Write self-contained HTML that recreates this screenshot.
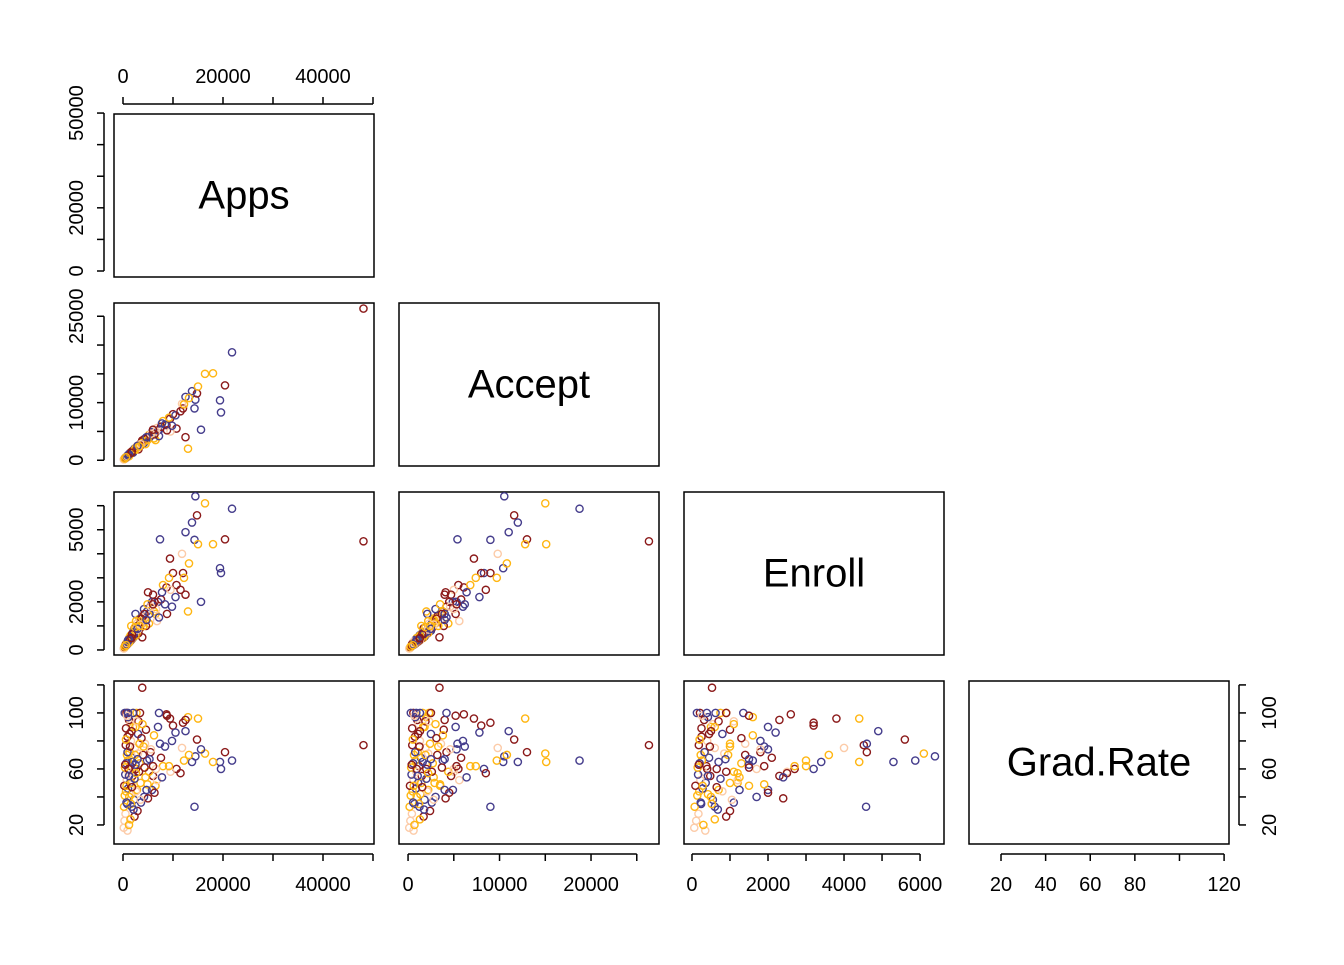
<!DOCTYPE html>
<html><head><meta charset="utf-8"><style>
html,body{margin:0;padding:0;background:#fff;}
svg text{font-family:"Liberation Sans",Arial,sans-serif;}
</style></head><body>
<svg id="chart" width="1344" height="960" viewBox="0 0 1344 960" xmlns="http://www.w3.org/2000/svg"></svg>
<script>
const varNames = ["Apps","Accept","Enroll","Grad.Rate"];
const apps   = [48094,21804,14474,16400,14800,19400,19600,18000,20400,13800,12500,14300,7400,9400,12000,15000,13200,11800,10000,15600,13000,12500,10700,8700,9500,8000,6000,7000,5500,6500,4800,4000,3500,3847,3000,2800,2600,2400,2200,2000,1900,1800,1700,1600,1500,1400,1300,1200,1100,1000,950,900,850,800,750,700,650,600,550,500,450,400,350,300,250,200,150,5200,4600,4200,3300,2900,2700,6800,7600,8400,9200,10500,11500,12200,5800,4400,3600,2300,2100,1750,1450,1250,1050,6200,7200,8800,9800,3100,4500,5000,6600,2500,1650,900,1200,600,3400,2000,
  2500,1900,3200,2600,4100,1300,1600,900,700,1100,2300,2800,3700,5300,4900,6300,800,1500,2100,3000,1000,1400,2600,4300,5600,7800,3900,450,350,700,1800,2400,3500,1200,1700,600,2900,3300,4700,6000];
const accept = [26330,18744,10519,15000,11600,10400,8300,15100,13000,12000,11000,9000,5400,7200,9000,12800,10800,9800,8000,5300,2000,4000,5500,6100,5000,6800,4700,5200,4200,3500,3800,3200,2900,3433,2500,2200,2000,1900,1800,1650,1500,1400,1350,1300,1200,1100,1050,1000,900,850,800,750,700,650,600,580,550,500,460,420,380,340,300,250,210,170,130,4400,3900,3000,2700,2400,2300,5600,5800,6200,7400,7800,8500,9700,4900,3600,2600,1700,1600,1250,1150,950,800,3800,4200,5200,6000,1900,2800,4100,5000,2100,1450,600,700,450,2500,1300,
  1800,1600,2600,2100,3300,1100,1200,780,620,950,2000,2300,3100,4000,3500,4500,700,1300,1750,2200,900,1250,2200,3700,4600,6400,3000,400,290,560,1550,1900,2800,1050,1300,520,2500,2400,4000,5300];
const enroll = [4520,5874,6392,6100,5600,3400,3200,4400,4600,5300,4900,4580,4600,3800,3200,4400,3600,4000,3200,2000,1600,2300,2700,2600,2500,2700,2300,2000,1800,1500,1600,1400,1200,527,800,700,650,600,550,500,480,450,420,400,380,360,340,320,300,280,260,250,240,230,220,210,200,190,180,170,160,150,130,110,90,70,60,1100,1000,1700,1300,1000,900,1200,2100,1900,3000,2200,2500,3000,2000,1400,1100,900,750,600,550,500,420,1600,1350,1500,1800,700,1250,2400,1700,1500,1000,350,300,250,900,620,
  600,700,900,800,1000,450,520,330,280,400,750,1100,1300,1500,1900,2000,260,600,680,850,390,470,1200,1500,1800,2400,1100,180,140,230,650,950,1050,420,500,200,880,1000,1250,1900];
const grad   = [77,66,69,71,81,65,60,65,72,65,87,33,78,96,93,96,70,75,91,74,97,95,60,99,58,62,55,90,72,48,66,70,50,118,85,45,60,75,38,90,55,68,42,80,62,50,72,95,58,46,66,83,35,70,52,100,64,44,77,28,56,61,100,23,48,33,18,58,88,40,64,30,100,52,68,76,62,86,57,66,45,78,36,26,100,33,92,40,97,84,100,98,80,94,54,39,60,63,50,16,20,89,100,100,
  90,65,58,44,76,85,35,72,48,60,53,94,82,67,49,43,98,24,31,71,100,76,57,61,74,54,92,63,41,36,47,70,38,55,87,81,67,78,45,62];
const groups = [0,1,1,2,0,1,1,2,0,1,1,1,1,0,0,2,2,3,0,1,2,0,0,0,3,2,0,1,0,2,1,0,2,0,1,2,0,3,1,2,0,1,2,3,0,1,2,0,3,1,2,0,1,2,3,0,1,2,0,3,1,2,1,3,0,2,3,2,0,1,2,0,2,3,0,1,2,1,0,2,1,3,1,0,2,1,3,2,1,2,1,0,1,0,2,0,3,1,2,3,2,0,0,1,
  2,1,0,3,2,0,2,1,2,0,1,3,0,1,2,0,3,2,1,3,1,0,2,0,3,1,2,0,2,1,0,2,3,1,0,2,1,2,1,0];
const palette = ["#8b1a1a","#453d8c","#ffb612","#fccba8"];
const ticks = [[0,10000,20000,30000,40000,50000],[0,5000,10000,15000,20000,25000],[0,1000,2000,3000,4000,5000,6000],[20,40,60,80,100,120]];
const xLabels = [[0,20000,40000],[0,10000,20000],[0,2000,4000,6000],[20,40,60,80,120]];
const yLabels = [[0,20000,50000],[0,10000,25000],[0,2000,5000],[20,60,100]];
const NS="http://www.w3.org/2000/svg";
const svg=document.getElementById('chart');
const colL=[114,399,684,969], rowT=[114,303,492,681], PW=260, PH=163;
const xDom=[[-1800,50200],[-990,27430],[-210,6630],[5.65,122.2]];
const yDom=[[-1900,49700],[-1000,27300],[-210,6570],[6.4,122.8]];
function sx(v,val){const d=xDom[v];return colL[v]+(val-d[0])/(d[1]-d[0])*PW;}
function sy(v,val){const d=yDom[v];return rowT[v]+PH-(val-d[0])/(d[1]-d[0])*PH;}
function el(t,a,p){const e=document.createElementNS(NS,t);for(const k in a)e.setAttribute(k,a[k]);(p||svg).appendChild(e);return e;}
const data=[apps,accept,enroll,grad];
for(let r=0;r<4;r++){for(let c=0;c<=r;c++){
  const g=el('g',{});
  
  
  const b=el('rect',{x:colL[c],y:rowT[r],width:PW,height:PH,fill:'none',stroke:'#000','stroke-width':1.5},g);
  
  
  if(r===c){
    const t=el('text',{x:colL[c]+PW/2,y:rowT[r]+PH/2+13,'text-anchor':'middle','font-size':40,fill:'#000'},g);
    t.textContent=varNames[r];
    
    
  } else {
    for(let i=0;i<apps.length;i++){
      const p=el('circle',{cx:sx(c,data[c][i]),cy:sy(r,data[r][i]),r:3.6,fill:'none',stroke:palette[groups[i]],'stroke-width':1.4},g);
      
      
    }
  }
}}
function xAxis(c,top){
  const y0= top? rowT[0] : rowT[3]+PH;
  const dir= top?-1:1;
  const g=el('g',{});
  
  
  const t=ticks[c];
  el('line',{x1:sx(c,t[0]),x2:sx(c,t[t.length-1]),y1:y0+dir*10,y2:y0+dir*10,stroke:'#000','stroke-width':1.5},g);
  t.forEach(v=>el('line',{x1:sx(c,v),x2:sx(c,v),y1:y0+dir*10,y2:y0+dir*17,stroke:'#000','stroke-width':1.5},g));
  xLabels[c].forEach(v=>{const tx=el('text',{x:sx(c,v),y:top?y0-31:y0+47,'text-anchor':'middle','font-size':20},g);tx.textContent=v;
    
    });
}
function yAxis(r,right){
  const x0= right? colL[3]+PW : colL[0];
  const dir= right?1:-1;
  const g=el('g',{});
  
  
  const t=ticks[r];
  const ys=t.map(v=>sy(r,v)).filter(y=>y>=rowT[r]-2);
  el('line',{x1:x0+dir*10,x2:x0+dir*10,y1:Math.min(...ys),y2:Math.max(...ys),stroke:'#000','stroke-width':1.5},g);
  t.forEach(v=>{const y=sy(r,v);if(y<rowT[r]-2)return;el('line',{x1:x0+dir*10,x2:x0+dir*17,y1:y,y2:y,stroke:'#000','stroke-width':1.5},g);});
  yLabels[r].forEach(v=>{const y=sy(r,v);const xx=right?x0+47:x0-31;
    const tx=el('text',{x:xx,y:y,'text-anchor':'middle','font-size':20,transform:'rotate(-90 '+xx+' '+y+')'},g);tx.textContent=v;
    
    });
}
xAxis(0,true);
for(let c=0;c<4;c++)xAxis(c,false);
for(let r=0;r<4;r++)yAxis(r,false);
yAxis(3,true);
</script>
</body></html>
